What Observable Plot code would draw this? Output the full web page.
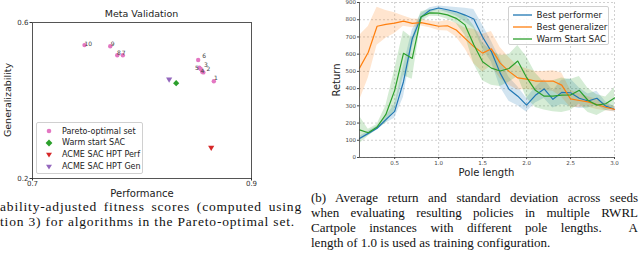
<!DOCTYPE html>
<html><head><meta charset="utf-8">
<script src="https://cdn.jsdelivr.net/npm/d3@7"></script>
<script src="https://cdn.jsdelivr.net/npm/@observablehq/plot@0.6"></script>
<style>
html,body{margin:0;padding:0;background:#fff}
body{width:640px;height:260px;overflow:hidden;position:relative;font-family:"DejaVu Sans",sans-serif;color:#222}
#left{position:absolute;left:0;top:0}
#right{position:absolute;left:320px;top:0}
.t{position:absolute;white-space:nowrap;transform:translate(-50%,-50%);font-family:"DejaVu Sans",sans-serif;color:#222;line-height:1}
.rot{transform:translate(-50%,-50%) rotate(-90deg)}
.cap{position:absolute;font-family:"Liberation Serif","Times New Roman",serif;color:#111}
.cap div{white-space:nowrap}
.cap div.j{text-align:justify;text-align-last:justify;white-space:normal}
.legend{position:absolute;background:rgba(255,255,255,0.85);border:1px solid #d0d0d0;border-radius:2px;box-sizing:border-box}
.legend .row{position:absolute;left:0;display:flex;align-items:center;white-space:nowrap;font-family:"DejaVu Sans",sans-serif;color:#222}
</style>
</head><body>
<div id="left"></div>
<div id="right"></div>
<div id="capL" class="cap" style="left:0;top:199.4px;width:302px;font-size:13.5px;line-height:15px">
  <div class="j">ability-adjusted fitness scores (computed using</div>
  <div><span id="capLlast">tion 3) for algorithms in the Pareto-optimal set.</span></div>
</div>
<div class="cap" style="left:311px;top:189.6px;width:327px;font-size:13px;line-height:15.3px">
  <div class="j">(b) Average return and standard deviation across seeds</div>
  <div class="j">when evaluating resulting policies in multiple RWRL</div>
  <div class="j">Cartpole instances with different pole lengths. &nbsp;A</div>
  <div>length of 1.0 is used as training configuration.</div>
</div>
<script>
// ---------- Left chart data (Meta Validation) ----------
const paretoIds  = ["10","9","8","7","6","5","3","4","2","1"];
const paretoPerf = [0.7475,0.7710,0.7774,0.7825,0.8513,0.8524,0.8536,0.8550,0.8560,0.8656];
const paretoGen  = [0.542,0.539,0.516,0.516,0.504,0.484,0.481,0.474,0.472,0.4495];
const labelPerf  = [0.7509,0.7733,0.7790,0.7833,0.8568,0.8501,0.8583,0.8552,0.8607,0.8675];
const labelGen   = [0.5436,0.5444,0.5213,0.5213,0.5136,0.4838,0.4915,0.4751,0.4795,0.4582];
const warmPerf = [0.8312], warmGen = [0.4444];
const hptPerfPerf = [0.8632], hptPerfGen = [0.2795];
const hptGenPerf = [0.8248], hptGenGen = [0.4546];
const leftXTicks = [0.7, 0.9];
const leftYTicks = [0.2, 0.6];
const leftLegend = ["Pareto-optimal set","Warm start SAC","ACME SAC HPT Perf","ACME SAC HPT Gen"];

// ---------- Right chart data (Return vs pole length) ----------
const poleLength = [0.1,0.2,0.3,0.4,0.5,0.6,0.7,0.8,0.9,1.0,1.1,1.2,1.3,1.4,1.5,1.6,1.7,1.8,1.9,2.0,2.1,2.2,2.3,2.4,2.5,2.6,2.7,2.8,2.9,3.0];
const perfMean = [110,140,170,220,268,440,690,815,855,868,858,846,827,804,700,615,490,396,356,304,361,398,338,378,376,344,328,344,298,280];
const perfStd  = [12,12,12,20,40,90,50,20,15,12,18,25,40,55,70,60,80,70,55,40,45,55,50,70,80,60,40,40,25,15];
const genMean  = [519,611,762,773,780,792,779,783,773,762,765,740,692,644,606,631,548,500,462,455,444,444,444,420,340,331,323,308,292,279];
const genStd   = [190,150,110,80,60,30,25,20,20,25,30,40,60,100,110,100,90,80,70,60,55,55,60,70,50,40,30,30,20,15];
const warmMean = [160,144,177,250,390,605,575,817,840,838,828,808,770,655,556,519,502,517,560,465,390,356,356,362,363,390,331,304,312,346];
const warmStd  = [80,20,15,50,120,130,120,30,20,20,25,30,60,110,110,100,90,80,90,120,100,80,90,100,90,80,70,60,40,60];
const seriesNames = ["Best performer","Best generalizer","Warm Start SAC"];
const seriesColors = ["#1f77b4","#ff7f0e","#2ca02c"];
const rightXTicks = [0.5,1.0,1.5,2.0,2.5,3.0];
const rightYTicks = [0,100,200,300,400,500,600,700,800,900];

// ---------- symbols ----------
const triDown = {draw(ctx, size){
  const y = -Math.sqrt(size / (Math.sqrt(3) * 3));
  ctx.moveTo(0, -y * 2);
  ctx.lineTo(-Math.sqrt(3) * y, y);
  ctx.lineTo(Math.sqrt(3) * y, y);
  ctx.closePath();
}};

// ---------- Left chart ----------
const pareto = paretoIds.map((id,i)=>({id, perf:paretoPerf[i], gen:paretoGen[i], lx:labelPerf[i], ly:labelGen[i]}));
const pts = (P,G)=>P.map((p,i)=>({perf:p, gen:G[i]}));
const leftPlot = Plot.plot({
  width:262, height:205, marginLeft:32, marginRight:11, marginTop:22, marginBottom:27,
  style:{fontFamily:"DejaVu Sans", fontSize:"7px", color:"#333", background:"transparent", overflow:"visible"},
  x:{domain:[0.7,0.9]},
  y:{domain:[0.2,0.6]},
  marks:[
    Plot.frame({stroke:"#555"}),
    Plot.axisX({ticks:leftXTicks, tickSize:2.5, tickPadding:0.5, label:null, tickFormat:d=>d.toFixed(1)}),
    Plot.axisY({ticks:leftYTicks, tickSize:2.5, tickPadding:1.5, label:null, tickFormat:d=>d.toFixed(1)}),
    Plot.dot(pareto, {x:"perf", y:"gen", r:2.2, fill:"#e377c2", symbol:"circle"}),
    Plot.text(pareto, {x:"lx", y:"ly", text:"id", fontSize:6, fill:"#444"}),
    Plot.dot(pts(hptGenPerf,hptGenGen), {x:"perf", y:"gen", r:2.3, fill:"#9467bd", symbol:triDown}),
    Plot.dot(pts(warmPerf,warmGen), {x:"perf", y:"gen", r:2.8, fill:"#2ca02c", symbol:"diamond2"}),
    Plot.dot(pts(hptPerfPerf,hptPerfGen), {x:"perf", y:"gen", r:2.3, fill:"#d62728", symbol:triDown})
  ]
});
document.getElementById("left").appendChild(leftPlot);

// ---------- Right chart ----------
const means = [perfMean, genMean, warmMean];
const stds = [perfStd, genStd, warmStd];
const rows = seriesNames.map((s,k)=>poleLength.map((x,i)=>({series:s, x, mean:means[k][i], lo:means[k][i]-stds[k][i], hi:means[k][i]+stds[k][i]})));
const bands = [], lines = [];
rows.forEach((r,k)=>{
  bands.push(Plot.areaY(r, {x:"x", y1:"lo", y2:"hi", fill:seriesColors[k], fillOpacity:0.2}));
  lines.push(Plot.lineY(r, {x:"x", y:"mean", stroke:seriesColors[k], strokeWidth:1.2}));
});
const rightPlot = Plot.plot({
  width:320, height:185, marginLeft:39, marginRight:26, marginTop:2, marginBottom:28,
  style:{fontFamily:"DejaVu Sans", fontSize:"5.5px", color:"#444", background:"transparent", overflow:"visible"},
  x:{domain:[poleLength[0], poleLength[poleLength.length-1]]},
  y:{domain:[0,900]},
  marks:[
    Plot.gridX({ticks:rightXTicks, stroke:"#bbb", strokeOpacity:1, strokeDasharray:"2,2", strokeWidth:0.7}),
    Plot.gridY({ticks:rightYTicks, stroke:"#bbb", strokeOpacity:1, strokeDasharray:"2,2", strokeWidth:0.7}),
    ...bands,
    ...lines,
    Plot.ruleX([poleLength[0]], {stroke:"#444", strokeWidth:0.8}),
    Plot.ruleY([0], {stroke:"#444", strokeWidth:0.8}),
    Plot.axisX({ticks:rightXTicks, tickSize:2, tickPadding:2, label:null, tickFormat:d=>d.toFixed(1)}),
    Plot.axisY({ticks:rightYTicks, tickSize:2, tickPadding:1.5, label:null})
  ]
});
document.getElementById("right").appendChild(rightPlot);

// ---------- Text overlays ----------
function addText(txt, x, y, size, cls){
  const d = document.createElement("div");
  d.className = "t" + (cls ? " " + cls : "");
  d.style.left = x + "px"; d.style.top = y + "px"; d.style.fontSize = size + "px";
  d.textContent = txt;
  document.body.appendChild(d);
}
addText("Meta Validation", 141.5, 14, 9.5);
addText("Generalizability", 8, 100, 9.5, "rot");
addText("Performance", 142, 193.5, 10);
addText("Return", 336.5, 80, 10, "rot");
addText("Pole length", 486.5, 173, 10);

// ---------- Left legend ----------
(function(){
  const box = document.createElement("div");
  box.className = "legend";
  Object.assign(box.style, {left:"36px", top:"122px", width:"107px", height:"52px"});
  const marks = [
    '<circle cx="6" cy="6" r="2.3" fill="#e377c2"/>',
    '<path d="M6 2.6 L9.4 6 L6 9.4 L2.6 6 Z" fill="#2ca02c"/>',
    '<path d="M3 3.8 L9 3.8 L6 8.6 Z" fill="#d62728"/>',
    '<path d="M3 3.8 L9 3.8 L6 8.6 Z" fill="#9467bd"/>'
  ];
  leftLegend.forEach((name,i)=>{
    const r = document.createElement("div");
    r.className = "row";
    r.style.top = (2 + i*11.9) + "px";
    r.style.height = "12px";
    r.style.fontSize = "8px";
    r.innerHTML = '<svg width="12" height="12" style="margin-left:5.5px;margin-right:7.5px">' + marks[i] + '</svg>';
    const s = document.createElement("span"); s.textContent = name; r.appendChild(s);
    box.appendChild(r);
  });
  document.body.appendChild(box);
})();

// ---------- Right legend ----------
(function(){
  const box = document.createElement("div");
  box.className = "legend";
  Object.assign(box.style, {left:"508px", top:"6px", width:"101px", height:"39px"});
  seriesNames.forEach((name,i)=>{
    const r = document.createElement("div");
    r.className = "row";
    r.style.top = (1.5 + i*12.2) + "px";
    r.style.height = "12px";
    r.style.fontSize = "8.7px";
    r.innerHTML = '<svg width="19" height="12" style="margin-left:3.5px;margin-right:5px"><line x1="0" y1="6" x2="19" y2="6" stroke="' + seriesColors[i] + '" stroke-width="1.3"/></svg>';
    const s = document.createElement("span"); s.textContent = name; r.appendChild(s);
    box.appendChild(r);
  });
  document.body.appendChild(box);
})();

// ---------- Widen left caption with letter-spacing so its last line spans ~295px ----------
(function(){
  const cap = document.getElementById("capL");
  const last = document.getElementById("capLlast");
  const w = last.getBoundingClientRect().width;
  const n = last.textContent.length;
  if (w > 0 && w < 295) {
    cap.style.letterSpacing = Math.min(1.2, (295 - w) / n).toFixed(3) + "px";
  }
})();
</script>
</body></html>
